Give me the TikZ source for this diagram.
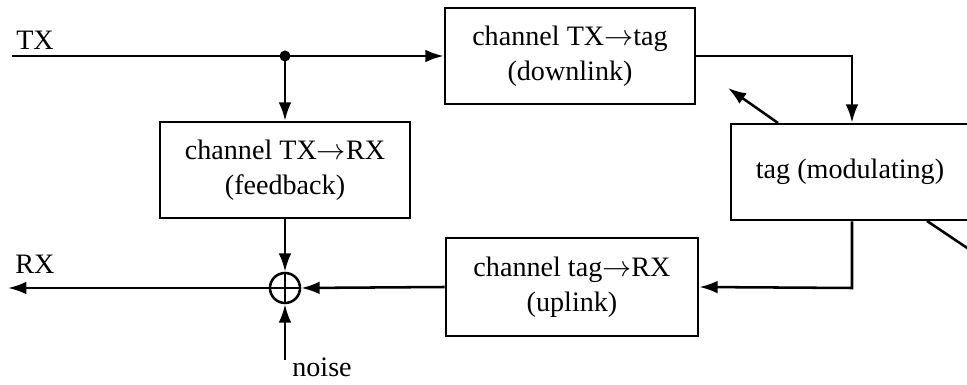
\documentclass[tikz,border=0pt]{standalone}
\usepackage{fontspec}
\setmainfont{Liberation Serif}
\usepackage{tikz}
\usetikzlibrary{arrows.meta}

\begin{document}
\begin{tikzpicture}[x=0.025cm, y=-0.025cm, line width=1.8pt,
    every node/.style={font=\fontsize{20}{25}\selectfont},
    blockbox/.style={draw, align=center, minimum width=6.25cm, minimum height=2.4cm, inner sep=0pt},
    sumnode/.style={draw, circle, minimum size=0.75cm, inner sep=0pt,
        path picture={\draw[line width=1pt] (path picture bounding box.north) -- (path picture bounding box.south)
            (path picture bounding box.west) -- (path picture bounding box.east);}},
    sig/.style={-{Latex[length=13pt,width=9pt]}}]
    \useasboundingbox (0,0) rectangle (967,385);
    % Blocks
    \node[blockbox] (down) at (570,56) {channel TX$\rightarrow$tag\\(downlink)};
    \node[blockbox] (feed) at (285,170) {channel TX$\rightarrow$RX\\(feedback)};
    \node[blockbox, minimum width=6.3cm, minimum height=2.45cm] (up) at (572,287) {channel tag$\rightarrow$RX\\(uplink)};
    \node[blockbox, minimum width=5.95cm] (tag) at (850,172) {tag (modulating)};
    \node[sumnode] (sum) at (285,288) {};
    % Points on the wires
    \coordinate (txin) at (12,56);
    \fill (285,56) circle (5.5) coordinate (split);
    \coordinate (c1) at (852,56);
    \coordinate (c2) at (852,288);
    \coordinate (rxout) at (8,288);
    \coordinate (noisein) at (285,360);
    % Labels
    \node (tx) at (35,40) {TX};
    \node (rx) at (35,264) {RX};
    \node (noise) at (322,367) {noise};
    % Wires
    \draw[sig] (txin) -- (down.west);
    \draw[sig] (split) -- (feed.north);
    \draw[sig] (down.east) -- (c1) -- (tag.north -| c1);
    \draw[sig] (tag.south -| c2) -- (c2) -- (up.east);
    \draw[sig] (up.west) -- (sum.east);
    \draw[sig] (feed.south) -- (sum.north);
    \draw[sig] (noisein) -- (sum.south);
    \draw[sig] (sum.west) -- (rxout);
    % Scattering
    \coordinate (s1) at (778,123);
    \coordinate (s2) at (728,88);
    \coordinate (s3) at (927,221);
    \coordinate (s4) at (1000,270);
    \draw[sig] (s1) -- (s2);
    \draw (s3) -- (s4);
\end{tikzpicture}
\end{document}
